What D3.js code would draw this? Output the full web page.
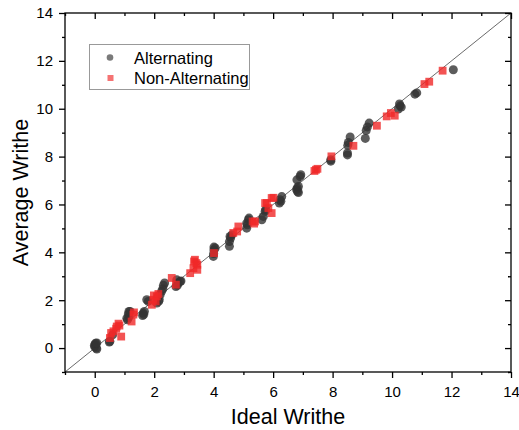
<!DOCTYPE html>
<html>
<head>
<meta charset="utf-8">
<script src="https://cdn.jsdelivr.net/npm/d3@7"></script>
<style>
body{margin:0;background:#fff;}
text{font-family:"Liberation Sans",Arial,sans-serif;}
</style>
</head>
<body>
<svg id="chart" width="519" height="430"></svg>
<script>
const xDomain = [-1, 14];
const yDomain = [-1, 14];
const majorTicks = [0, 2, 4, 6, 8, 10, 12, 14];
const minorTicks = [-1, 1, 3, 5, 7, 9, 11, 13];
const seriesNames = ["Alternating", "Non-Alternating"];

const alternating = [
  [0.0,0.05],[0.02,0.15],[-0.01,0.12],[0.05,0.0],[0.07,-0.04],[0.03,0.2],[0.07,0.21],
  [0.49,0.25],[0.51,0.28],[0.6,0.55],
  [1.08,1.25],[1.10,1.18],[1.13,1.42],[1.19,1.53],[1.15,1.3],[1.15,1.53],
  [1.61,1.36],[1.63,1.46],[1.67,1.53],[1.65,1.4],
  [1.75,2.02],[1.8,1.95],[2.09,1.88],[2.11,2.11],[2.17,2.02],[2.15,1.95],
  [2.20,2.23],[2.25,2.37],[2.29,2.48],[2.31,2.62],[2.35,2.72],
  [2.73,2.57],[2.76,2.85],[2.81,2.72],[2.87,2.78],[2.78,2.62],[2.9,2.8],
  [3.99,3.83],[4.01,4.11],[4.05,4.18],[4.0,3.95],[4.01,4.22],
  [4.53,4.25],[4.53,4.45],[4.57,4.6],[4.61,4.73],[4.55,4.66],
  [5.11,5.01],[5.11,5.22],[5.13,5.15],[5.17,5.36],[5.19,5.43],
  [5.62,5.36],[5.67,5.5],[5.73,5.71],[5.75,5.78],
  [6.21,6.06],[6.23,6.2],[6.26,6.13],[6.29,6.33],
  [6.79,6.62],[6.81,6.69],[6.82,6.54],[6.85,6.5],[6.80,7.03],[6.85,6.75],[6.91,7.17],[6.93,7.24],
  [7.94,7.81],[7.94,7.87],
  [8.50,8.07],[8.50,8.15],[8.51,8.47],[8.53,8.59],[8.59,8.82],
  [9.10,8.76],[9.13,9.09],[9.17,9.24],[9.23,9.40],
  [10.21,9.99],[10.27,10.12],[10.31,10.07],[10.25,10.2],
  [10.77,10.61],[10.83,10.66],
  [12.06,11.63]
];

const nonAlternating = [
  [0.51,0.42],[0.55,0.63],[0.63,0.7],[0.72,0.81],[0.74,0.9],[0.80,1.02],[0.83,0.94],[0.89,0.48],
  [1.24,1.11],[1.30,1.4],[1.32,1.49],
  [1.92,1.81],[1.97,2.02],[1.99,2.2],[2.09,2.16],[2.14,2.26],[2.05,1.95],
  [2.59,2.93],[2.73,2.65],
  [3.21,3.13],[3.32,3.34],[3.34,3.62],[3.37,3.69],[3.45,3.48],[3.45,3.27],[3.42,3.55],
  [4.01,3.97],
  [4.66,4.81],[4.79,4.87],[4.83,5.08],
  [5.31,5.29],[5.39,5.29],[5.36,5.2],
  [5.73,6.06],[5.79,6.06],[5.84,5.85],[5.95,5.64],[5.95,6.27],[6.01,6.28],
  [7.39,7.40],[7.44,7.45],[7.49,7.49],
  [7.96,8.01],
  [8.70,8.45],
  [9.49,9.29],
  [9.82,9.68],[9.96,9.82],[10.09,9.71],
  [11.09,11.03],[11.25,11.13],
  [11.70,11.59]
];

const svg = d3.select("#chart");
const L = 65, R = 511, T = 13, B = 372;
const x = d3.scaleLinear().domain(xDomain).range([L, R]);
const y = d3.scaleLinear().domain(yDomain).range([B, T]);

const grayFill = "#333333", redFill = "#f02828";

// diagonal
svg.append("line")
  .attr("x1", x(xDomain[0])).attr("y1", y(yDomain[0]))
  .attr("x2", x(xDomain[1])).attr("y2", y(yDomain[1]))
  .attr("stroke", "#444").attr("stroke-width", 0.8);

// points
svg.append("g").selectAll("circle").data(alternating).join("circle")
  .attr("cx", d => x(d[0])).attr("cy", d => y(d[1])).attr("r", 4.5)
  .attr("fill", grayFill).attr("fill-opacity", 0.8);

const sq = 7.8;
svg.append("g").selectAll("rect").data(nonAlternating).join("rect")
  .attr("x", d => x(d[0]) - sq/2).attr("y", d => y(d[1]) - sq/2)
  .attr("width", sq).attr("height", sq)
  .attr("fill", redFill).attr("fill-opacity", 0.8);

// axes
function styleAxis(g){
  g.select(".domain").remove();
  g.selectAll("line").attr("stroke", "#000").attr("stroke-width", 1.3);
  g.selectAll("text").attr("font-size", 15).attr("fill", "#000")
    .attr("font-family", "'Liberation Sans', Arial, sans-serif");
}
svg.append("g").attr("transform", `translate(0,${B})`)
  .call(d3.axisBottom(x).tickValues(majorTicks).tickSize(6).tickPadding(8).tickFormat(d3.format("d")))
  .call(styleAxis);
svg.append("g").attr("transform", `translate(0,${B})`)
  .call(d3.axisBottom(x).tickValues(minorTicks).tickSize(3).tickFormat(""))
  .call(styleAxis);
svg.append("g").attr("transform", `translate(${L},0)`)
  .call(d3.axisLeft(y).tickValues(majorTicks).tickSize(6).tickPadding(6).tickFormat(d3.format("d")))
  .call(styleAxis);
svg.append("g").attr("transform", `translate(${L},0)`)
  .call(d3.axisLeft(y).tickValues(minorTicks).tickSize(3).tickFormat(""))
  .call(styleAxis);
svg.append("g").attr("transform", `translate(0,${T})`)
  .call(d3.axisBottom(x).tickValues(majorTicks).tickSize(6).tickFormat(""))
  .call(styleAxis);
svg.append("g").attr("transform", `translate(0,${T})`)
  .call(d3.axisBottom(x).tickValues(minorTicks).tickSize(3).tickFormat(""))
  .call(styleAxis);
svg.append("g").attr("transform", `translate(${R},0)`)
  .call(d3.axisLeft(y).tickValues(majorTicks).tickSize(6).tickFormat(""))
  .call(styleAxis);
svg.append("g").attr("transform", `translate(${R},0)`)
  .call(d3.axisLeft(y).tickValues(minorTicks).tickSize(3).tickFormat(""))
  .call(styleAxis);

svg.append("rect").attr("x", L).attr("y", T).attr("width", R - L).attr("height", B - T)
  .attr("fill", "none").attr("stroke", "#000").attr("stroke-width", 1.3);

// axis titles
svg.append("text").attr("x", (L + R) / 2).attr("y", 424).attr("text-anchor", "middle")
  .attr("font-size", 21.5).attr("fill", "#000").text("Ideal Writhe");
svg.append("text").attr("transform", `translate(28,${(T + B) / 2}) rotate(-90)`)
  .attr("text-anchor", "middle").attr("font-size", 21.5).attr("fill", "#000").text("Average Writhe");

// legend
const lg = svg.append("g");
lg.append("rect").attr("x", 89.5).attr("y", 44.5).attr("width", 160).attr("height", 45)
  .attr("fill", "#fff").attr("stroke", "#999").attr("stroke-width", 1);
lg.append("circle").attr("cx", 110).attr("cy", 57.5).attr("r", 3.3)
  .attr("fill", grayFill).attr("fill-opacity", 0.65);
lg.append("rect").attr("x", 107.5).attr("y", 75).attr("width", 6).attr("height", 6)
  .attr("fill", redFill).attr("fill-opacity", 0.65);
lg.append("text").attr("x", 134).attr("y", 63.5).attr("font-size", 16.5).attr("fill", "#000").text(seriesNames[0]);
lg.append("text").attr("x", 134).attr("y", 83.5).attr("font-size", 16.5).attr("fill", "#000").text(seriesNames[1]);
</script>
</body>
</html>
